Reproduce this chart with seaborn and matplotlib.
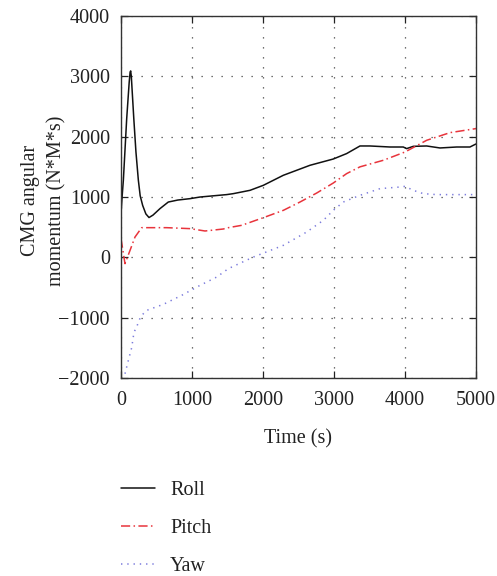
import numpy as np
import pandas as pd
import matplotlib
matplotlib.use("Agg")
import matplotlib.pyplot as plt
from matplotlib.lines import Line2D
import seaborn as sns

# Time stamps (s) and CMG angular momentum per axis (N*M*s)
roll_t = [0, 15, 33, 80, 115, 128, 136, 145, 160, 180, 210, 244, 270, 305, 350, 394, 450,
          549, 666, 800, 972, 1113, 1300, 1488, 1582, 1817, 2005, 2286, 2662, 2990, 3178,
          3366, 3507, 3789, 3976, 4023, 4117, 4305, 4493, 4728, 4915, 5000]
roll_v = [730, 1000, 1280, 2300, 2900, 3070, 3090, 3000, 2700, 2300, 1750, 1280, 1020, 860,
          720, 660, 700, 808, 917, 950, 973, 1000, 1020, 1040, 1056, 1111, 1194, 1360, 1526,
          1630, 1720, 1846, 1846, 1829, 1829, 1802, 1840, 1846, 1813, 1829, 1829, 1879]

pitch_t = [0, 56, 127, 197, 291, 643, 972, 1183, 1441, 1512, 1700, 2005, 2286, 2521, 2756,
           2990, 3178, 3366, 3695, 4000, 4305, 4634, 5000]
pitch_v = [310, -104, 116, 337, 492, 492, 476, 437, 470, 492, 531, 658, 779, 917, 1066,
           1232, 1388, 1500, 1609, 1746, 1940, 2067, 2134]

yaw_t = [56, 103, 150, 183, 221, 244, 282, 361, 596, 854, 1113, 1347, 1512, 1864, 2286,
         2615, 2850, 2990, 3131, 3366, 3648, 3930, 4000, 4117, 4258, 4446, 5000]
yaw_v = [-1929, -1708, -1498, -1238, -1156, -1073, -973, -879, -779, -630, -464, -327, -187,
         5, 199, 420, 614, 779, 917, 1028, 1139, 1166, 1177, 1111, 1056, 1040, 1040]

series_names = ["Roll", "Pitch", "Yaw"]
x_ticks = [0, 1000, 2000, 3000, 4000, 5000]
y_ticks = [-2000, -1000, 0, 1000, 2000, 3000, 4000]

df = pd.concat([
    pd.DataFrame({"t": roll_t, "v": roll_v, "axis": "Roll"}),
    pd.DataFrame({"t": pitch_t, "v": pitch_v, "axis": "Pitch"}),
    pd.DataFrame({"t": yaw_t, "v": yaw_v, "axis": "Yaw"}),
], ignore_index=True)

sns.set_theme(style="ticks")
plt.rcParams["font.family"] = ["Liberation Serif", "DejaVu Serif"]
plt.rcParams["axes.linewidth"] = 1.0
plt.rcParams["axes.edgecolor"] = "#333333"

FS = 14.5
fig = plt.figure(figsize=(4.97, 5.76), dpi=100)
ax = fig.add_axes([0.2435, 0.3437, 0.7142, 0.6285])

palette = {"Roll": "#111111", "Pitch": "#e8343c", "Yaw": "#7b7bdc"}
dashes = {"Roll": "", "Pitch": (6, 2.2, 1, 2.2), "Yaw": (0.9, 3.2)}

sns.lineplot(data=df, x="t", y="v", hue="axis", style="axis", hue_order=series_names,
             style_order=series_names, palette=palette, dashes=dashes,
             estimator=None, sort=False, linewidth=1.1, ax=ax, legend=False)

ax.set_xlim(0, 5000)
ax.set_ylim(-2000, 4000)
ax.set_xticks(x_ticks)
ax.set_yticks(y_ticks)
ax.grid(True, color="#444444", linestyle=(0, (1, 7)), linewidth=0.9)
ax.tick_params(direction="in", length=5, width=0.9, top=True, right=True,
               labelsize=FS, colors="#222222")
ax.tick_params(axis="x", pad=9)
ax.tick_params(axis="y", pad=8)
for s in ax.spines.values():
    s.set_visible(True)
    s.set_color("#333333")

ax.set_xlabel("Time (s)", fontsize=FS, color="#222222")
ax.set_ylabel("CMG angular\nmomentum (N*M*s)", fontsize=FS, color="#222222",
              linespacing=1.45)
ax.xaxis.set_label_coords(0.5, -0.141)
ax.yaxis.set_label_coords(-0.155, 0.49)

handles = [Line2D([], [], color=palette[n], linewidth=1.1,
                  linestyle=(0, dashes[n]) if dashes[n] else "-") for n in series_names]
fig.legend(handles, series_names, loc="upper left", bbox_to_anchor=(0.243, 0.165),
           frameon=False, fontsize=FS, handlelength=1.7, handletextpad=0.75,
           labelspacing=0.93, borderpad=0, borderaxespad=0, labelcolor="#222222")

fig.savefig("out.png", dpi=100)
